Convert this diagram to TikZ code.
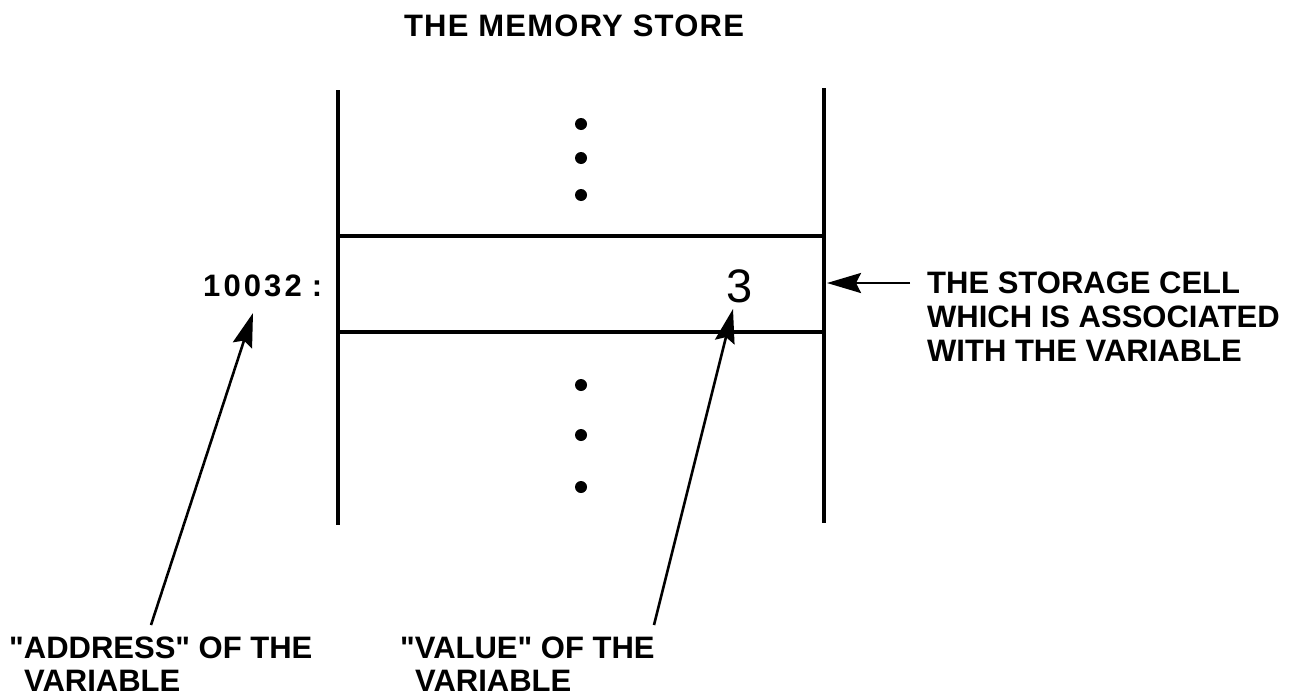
\documentclass[tikz,border=0pt]{standalone}
\usepackage{fontspec}
\setmainfont{Liberation Sans}
\usetikzlibrary{arrows.meta}
\begin{document}
\begin{tikzpicture}[x=1pt,y=-1pt,
  frame/.style={line width=4.5pt},
  lbl/.style={font=\bfseries\fontsize{31}{34}\selectfont, inner sep=0pt, align=left},
  ptr/.style={line width=2.6pt, -{Stealth[length=34pt,width=20pt,inset=5pt]}},
  dot/.style={circle, fill=black, inner sep=0pt, minimum size=12pt}]
\useasboundingbox (0,0) rectangle (1301,696);
% frame
\draw[frame] (338,90) -- (338,525);
\draw[frame] (824,88) -- (824,523);
\draw[frame] (338,236) -- (824,236);
\draw[frame] (338,332) -- (824,332);
% dots
\foreach \y/\n in {124/a,158/b,195/c,385/d,435/e,487/f}
  \node[dot] (dot\n) at (581,\y) {};
% texts
\node[lbl, anchor=north] (title) at (574,15) {\addfontfeature{LetterSpace=4}THE MEMORY STORE};
\node[lbl, anchor=north west] (addr) at (203,275) {{\addfontfeature{LetterSpace=10}10032}\hspace{10pt}:};
\node[anchor=center, inner sep=0pt, font=\fontsize{47}{47}\selectfont] (val) at (740,286) {3};
\node[lbl, anchor=north west] (cell) at (927,272) {THE STORAGE CELL\\WHICH IS ASSOCIATED\\WITH THE VARIABLE};
\node[lbl, anchor=north west, font=\bfseries\fontsize{31}{33}\selectfont] (addrlbl) at (9,637) {\textquotedbl ADDRESS\textquotedbl\ OF THE\\\hspace{15pt}VARIABLE};
\node[lbl, anchor=north west, font=\bfseries\fontsize{31}{33}\selectfont] (vallbl) at (400,637) {\textquotedbl VALUE\textquotedbl\ OF THE\\\hspace{15pt}VARIABLE};
% pointers
\coordinate (celltip) at (827,283);
\coordinate (celltail) at (910,283);
\coordinate (addrtip) at (253,313);
\coordinate (addrtail) at (151,625);
\coordinate (valtip) at (733,309);
\coordinate (valtail) at (654,625);
\draw[ptr] (celltail) -- (celltip);
\draw[ptr] (addrtail) -- (addrtip);
\draw[ptr] (valtail) -- (valtip);
\end{tikzpicture}
\end{document}
